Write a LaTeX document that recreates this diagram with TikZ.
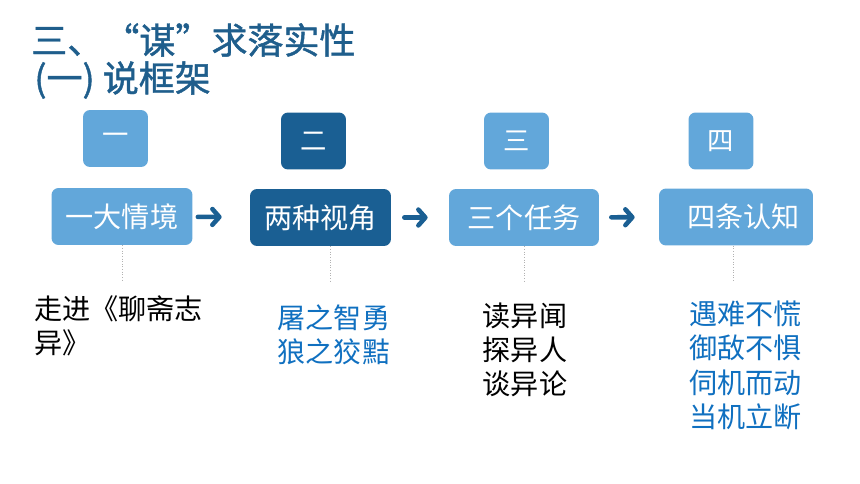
\documentclass[tikz,border=0pt]{standalone}
\usepackage{fontspec}
\newfontfamily\cjk{Noto Sans CJK SC}
\newfontfamily\cjkhead[FakeBold=1.2]{Noto Sans CJK SC}
\usetikzlibrary{arrows.meta}
\definecolor{lightblue}{HTML}{62A7DA}
\definecolor{darkblue}{HTML}{1A5F93}
\definecolor{titleblue}{HTML}{1F5E8C}
\definecolor{textblue}{HTML}{1070C0}

\begin{document}
\begin{tikzpicture}
			[x=0.02cm,y=-0.02cm,every node/.style={inner sep=0pt},
			title/.style={anchor=west,text=titleblue,font=\cjkhead\fontsize{20.5}{24}\selectfont},
			num/.style={rounded corners=0.14cm,fill=lightblue,text=white,minimum width=1.3cm,minimum height=1.14cm,font=\cjk\fontsize{15}{15}\selectfont},
			box/.style={rounded corners=0.14cm,fill=lightblue,text=white,minimum height=1.14cm,font=\cjk\fontsize{16}{16}\selectfont},
			note/.style={font=\cjk\fontsize{16}{19.5}\selectfont},
			arr/.style={darkblue,line width=2.6pt,line cap=round,-{Straight Barb[length=4pt,width=9pt,round]}},
			guide/.style={gray!60,densely dotted,line width=0.5pt}]
			\useasboundingbox (0,0) rectangle (860,484);
			\node[title] (t1) at (31,40) {三、“谋”求落实性};
			\node[title] (t2) at (34,80) {(一) 说框架};
			
			\node[num] (s1) at (115.5,138.5) {一};
			\node[num,fill=darkblue] (s2) at (313.5,141) {二};
			\node[num] (s3) at (516.5,141) {三};
			\node[num] (s4) at (721,141) {四};
			
			\node[box,minimum width=2.82cm] (b1) at (122,216.5) {一大情境};
			\node[box,minimum width=2.82cm,fill=darkblue] (b2) at (320.5,217.5) {两种视角};
			\node[box,minimum width=3cm] (b3) at (524,217.5) {三个任务};
			\node[box,minimum width=3.08cm] (b4) at (736,217) {\hspace{0.3cm}四条认知};
			
			\foreach \from/\to/\s/\e in {b1/b2/0.1/0.56,b2/b3/0.26/0.42,b3/b4/0.24/0.48}
			\draw[arr,shorten <=\s cm,shorten >=\e cm] (\from) -- (\to);
			
			\node[note,align=left] (m1) at (118.5,326) {走进《聊斋志\\异》};
			\node[note,align=left,text=textblue] (m2) at (334,335) {屠之智勇\\狼之狡黠};
			\node[note,align=left] (m3) at (525,350) {读异闻\\探异人\\谈异论};
			\node[note,align=left,text=textblue] (m4) at (745.5,365.5) {遇难不慌\\御敌不惧\\伺机而动\\当机立断};
			
			\draw[guide] (b1.south) -- ++(0,35);
			\draw[guide] ([xshift=0.2cm]b2.south) -- ++(0,35);
			\draw[guide] (b3.south) -- ++(0,35);
			\draw[guide] ([xshift=-0.06cm]b4.south) -- ++(0,35);
			\end{tikzpicture}
\end{document}
